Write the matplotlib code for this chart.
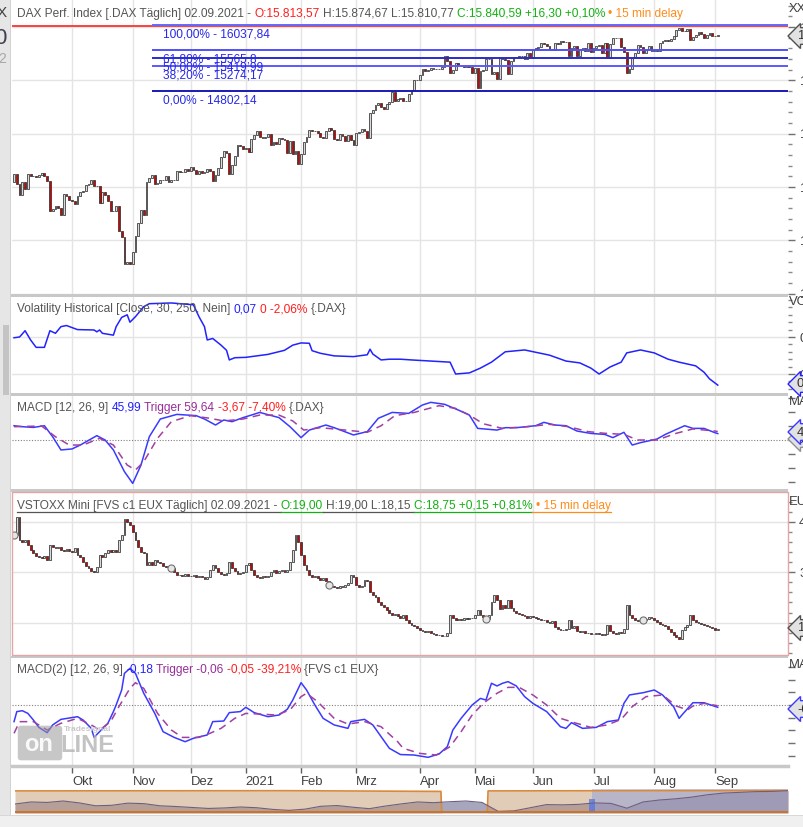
import numpy as np
import pandas as pd
import matplotlib
matplotlib.use("Agg")
import matplotlib.pyplot as plt
from matplotlib.patches import Rectangle, FancyBboxPatch
from matplotlib.lines import Line2D

W, H = 804, 827
plt.rcParams['font.family'] = ['Liberation Sans', 'DejaVu Sans']

# ---- Handelstage (Xetra), 02.09.2020 - 02.09.2021
holidays = ['2020-12-24', '2020-12-25', '2020-12-31', '2021-01-01', '2021-04-02', '2021-04-05']
days = pd.bdate_range('2020-09-02', '2021-09-02')
days = days[~days.isin(pd.to_datetime(holidays))]

# ---- DAX Schlusskurse (täglich)
dax_close = [
    13243, 13057, 12842, 13100, 12968, 13237, 13209, 13202, 13194, 13217, 13255, 13208, 13116, 12542, 12594,
    12643, 12607, 12469, 12871, 12826, 12761,
    12731, 12689, 12828, 12906, 12928, 13042, 13051, 13138, 13019, 13028, 12704, 12909, 12854, 12736, 12558,
    12543, 12646, 12178, 12064, 11561, 11598, 11556,
    11789, 12089, 12324, 12568, 12480, 13096, 13163, 13216, 13053, 13077, 13139, 13133, 13202, 13087, 13137,
    13127, 13292, 13290, 13286, 13336, 13291,
    13382, 13313, 13253, 13299, 13271, 13278, 13340, 13296, 13114, 13223, 13362, 13565, 13667, 13630, 13246,
    13418, 13587, 13790, 13761, 13719,
    13726, 13652, 13892, 13968, 14050, 13937, 13925, 13940, 13989, 13788, 13848, 13815, 13922, 13906, 13874,
    13643, 13871, 13620, 13666, 13433,
    13623, 13835, 13933, 14060, 14057, 14059, 14012, 13933, 13921, 14050, 14109, 14065, 13909, 13886, 13993,
    13950, 13864, 13976, 13879, 13786,
    14012, 14039, 14080, 14056, 13920, 14380, 14437, 14540, 14569, 14502, 14461, 14557, 14596, 14775, 14621,
    14657, 14662, 14610, 14621, 14748, 14818, 15009, 15008,
    15107, 15212, 15176, 15203, 15234, 15216, 15215, 15209, 15255, 15460, 15368, 15130, 15195, 15320, 15280,
    15296, 15249, 15292, 15255, 15136,
    15236, 14856, 15171, 15197, 15400, 15400, 15120, 15150, 15031, 15417, 15397, 15386, 15113, 15370, 15437,
    15437, 15465, 15450, 15406, 15520, 15421,
    15568, 15603, 15632, 15693, 15677, 15640, 15581, 15571, 15693, 15673, 15729, 15711, 15727, 15448, 15603,
    15636, 15456, 15589, 15608, 15555, 15691, 15531,
    15603, 15650, 15661, 15511, 15692, 15421, 15688, 15791, 15790, 15788, 15630, 15540, 15133, 15217, 15422,
    15514, 15669, 15618, 15519, 15570, 15640, 15544,
    15569, 15555, 15692, 15744, 15761, 15745, 15770, 15826, 15937, 15977, 15925, 15921, 15966, 15765, 15808,
    15852, 15905, 15860, 15794, 15852, 15888, 15835,
    15824, 15841,
]
dax_first_open = 13087

# ---- VSTOXX Mini (FVS c1) Schlusskurse
vs_close = [
    37.5, 41.0, 36.5, 36.0, 36.5, 35.5, 34.5, 33.8, 33.2, 33.0, 32.8, 33.3, 32.5, 35.5, 35.0, 34.8, 35.0, 34.5,
    34.2, 34.6, 34.3,
    34.0, 34.8, 33.5, 33.0, 32.0, 31.2, 30.8, 30.2, 30.0, 31.0, 33.5, 33.0, 33.8, 34.5, 34.0, 34.5, 34.0, 36.5,
    37.5, 40.5, 40.0, 39.5,
    38.0, 36.5, 35.0, 34.0, 33.8, 31.5, 32.0, 31.5, 32.5, 32.0, 31.8, 31.2, 31.0, 31.2, 30.8, 30.0, 29.5, 29.4,
    29.2, 29.6, 29.3,
    29.2, 29.4, 29.0, 29.3, 29.1, 28.6, 29.0, 30.5, 31.5, 30.8, 30.0, 29.6, 29.4, 29.8, 32.0, 30.8, 30.2, 29.6,
    29.8, 30.0,
    31.5, 31.8, 30.5, 29.5, 29.0, 28.8, 29.2, 29.0, 29.3, 30.0, 30.5, 29.8, 30.2, 30.4, 30.0, 30.5, 32.0, 34.5,
    37.5, 36.0,
    33.5, 31.5, 30.5, 29.5, 29.0, 29.2, 28.8, 28.5, 28.8, 28.2, 27.5, 27.2, 27.0, 26.8, 27.3, 27.0, 27.4, 27.8,
    29.5, 29.0,
    27.5, 27.0, 27.2, 28.5, 28.2, 26.0, 25.5, 25.0, 24.0, 23.5, 23.2, 22.5, 22.0, 21.5, 21.8, 21.3, 21.0, 21.5,
    20.6, 20.0, 19.6, 19.3, 19.0,
    18.6, 18.4, 18.2, 18.3, 18.0, 17.8, 17.6, 17.5, 17.3, 17.4, 18.0, 21.5, 21.0, 20.5, 20.8, 20.6, 21.0, 20.7,
    20.9, 21.0,
    21.5, 22.5, 21.5, 21.2, 20.8, 21.5, 24.0, 25.5, 24.5, 22.8, 23.5, 23.0, 24.5, 23.0, 22.3, 22.0, 21.8, 21.5,
    21.3, 21.0, 21.4,
    21.2, 20.9, 20.7, 20.5, 20.6, 20.2, 20.0, 20.3, 19.2, 18.8, 18.6, 18.5, 18.7, 20.6, 19.0, 19.3, 18.4, 18.2,
    18.3, 18.0, 17.9, 17.7,
    17.8, 17.9, 17.7, 17.6, 17.8, 19.6, 18.4, 18.0, 17.8, 18.1, 17.9, 18.8, 23.5, 21.5, 21.0, 20.6, 20.4, 20.6,
    20.5, 20.8, 21.2, 20.9,
    20.5, 20.2, 19.8, 19.5, 19.3, 18.8, 18.2, 17.6, 17.2, 16.8, 18.5, 19.2, 19.5, 21.5, 20.5, 20.2, 20.0, 19.8,
    19.6, 19.4, 19.2, 19.0,
    18.6, 18.75,
]
vs_first_open = 36.8
vs_roll_days = [0, 57, 114, 171, 228]

# ---- Volatility Historical (DAX)
vol_day = [0, 2, 4, 6, 8, 11, 13, 15, 17, 19, 23, 29, 30, 31, 32, 36, 37, 39, 41, 42, 44, 47, 49, 57, 65, 67,
           69, 70, 72, 75, 77, 78, 80, 84, 92, 98, 101, 104, 107, 108, 111, 116, 123, 128, 129, 130, 133, 136,
           140, 144, 158, 160, 165, 169, 173, 178, 185, 194, 200, 205, 209, 212, 216, 220, 222, 227, 232, 237,
           241, 247, 250, 252, 255]
vol_val = [0.198, 0.200, 0.217, 0.192, 0.172, 0.172, 0.217, 0.210, 0.228, 0.231, 0.220, 0.219, 0.214, 0.219,
           0.210, 0.205, 0.228, 0.253, 0.260, 0.240, 0.255, 0.282, 0.290, 0.292, 0.287, 0.255, 0.228, 0.192,
           0.196, 0.178, 0.164, 0.138, 0.144, 0.145, 0.153, 0.164, 0.178, 0.184, 0.183, 0.163, 0.156, 0.149,
           0.147, 0.152, 0.167, 0.154, 0.138, 0.140, 0.140, 0.138, 0.132, 0.100, 0.103, 0.116, 0.132, 0.160,
           0.165, 0.151, 0.135, 0.130, 0.116, 0.100, 0.119, 0.132, 0.157, 0.165, 0.157, 0.140, 0.132, 0.122,
           0.105, 0.087, 0.070]

# ---- MACD DAX
macd_day = [0, 3, 7, 11, 14, 17, 21, 24, 30, 33, 36, 40, 43, 46, 49, 53, 59, 66, 69, 73, 76, 79, 83, 86, 89,
            96, 100, 104, 107, 113, 116, 123, 128, 132, 137, 143, 148, 151, 156, 161, 165, 168, 175, 178, 182,
            189, 192, 196, 200, 204, 209, 214, 217, 221, 224, 227, 233, 236, 243, 246, 250, 254, 255]
macd_val = [102, 95, 90, 102, 23, -71, -64, -36, 31, 0, -71, -226, -310, -179, 23, 150, 183, 174, 150, 107,
            143, 131, 160, 178, 197, 160, 95, 17, 71, 107, 88, 36, 60, 155, 197, 190, 250, 269, 255, 214, 178,
            83, 71, 88, 88, 102, 126, 107, 102, 64, 47, 40, 17, 55, -36, -19, 7, 40, 102, 83, 83, 52, 46]
trig_day = [0, 10, 15, 20, 25, 31, 36, 41, 44, 47, 52, 57, 64, 71, 76, 83, 89, 96, 101, 105, 111, 120, 128,
            133, 138, 145, 154, 160, 165, 170, 177, 186, 194, 201, 208, 214, 221, 226, 233, 240, 246, 254, 255]
trig_val = [95, 100, 23, -36, -36, 12, -36, -179, -214, -155, 12, 131, 174, 155, 136, 150, 178, 178, 136, 71,
            88, 71, 55, 102, 174, 197, 245, 226, 178, 116, 83, 95, 112, 95, 60, 48, 40, 0, 0, 48, 79, 64, 60]

# ---- MACD(2) VSTOXX
vm_day = [0, 1, 3, 5, 7, 9, 12, 14, 17, 23, 25, 28, 29, 31, 34, 36, 37, 39, 40, 42, 44, 47, 51, 54, 58, 62,
          65, 70, 72, 76, 78, 82, 84, 87, 92, 96, 99, 101, 104, 106, 109, 112, 116, 121, 122, 127, 130, 133,
          136, 140, 145, 150, 154, 157, 159, 162, 166, 169, 171, 173, 175, 177, 179, 182, 185, 188, 193, 198,
          200, 202, 206, 211, 215, 219, 221, 223, 228, 232, 235, 239, 241, 242, 246, 250, 255]
vm_val = [-1.31, -0.52, -0.45, -0.66, -1.18, -1.76, -2.18, -1.57, -1.13, -0.92, -1.18, -1.84, -2.55, -2.10,
          -1.44, -0.52, 0.00, 1.18, 2.49, 2.89, 2.49, 0.92, -0.66, -2.10, -2.55, -2.89, -2.62, -2.36, -1.31,
          -1.26, -0.60, -0.52, -0.18, -0.60, -0.92, -0.79, -0.34, 0.39, 1.76, 1.18, 0.00, -1.05, -1.57, -1.84,
          -1.31, -1.13, -1.57, -2.49, -3.41, -3.90, -3.94, -4.12, -3.86, -3.28, -1.97, -1.05, 0.00, 0.52, 0.39,
          1.71, 1.50, 1.71, 1.84, 1.50, 0.66, 0.13, -0.52, -1.71, -1.84, -1.39, -1.84, -1.76, -1.31, -1.18,
          0.13, 0.79, 0.97, 1.18, 0.79, -0.13, -1.05, -0.79, 0.18, 0.18, -0.18]
vt_day = [0, 2, 7, 12, 17, 23, 28, 31, 35, 38, 42, 44, 47, 52, 57, 61, 67, 71, 75, 80, 84, 89, 95, 100, 104,
          106, 110, 116, 121, 127, 133, 139, 141, 147, 153, 158, 162, 166, 170, 175, 179, 183, 188, 193, 198,
          203, 209, 215, 220, 224, 229, 235, 240, 244, 246, 250, 255]
vt_val = [-2.23, -1.31, -1.31, -1.97, -1.44, -1.05, -1.57, -1.97, -1.31, -0.13, 1.31, 1.76, 1.31, -0.66,
          -1.97, -2.55, -2.55, -2.23, -1.84, -1.05, -0.66, -0.71, -0.79, -0.39, 0.66, 0.92, 0.26, -1.05, -1.50,
          -1.31, -1.71, -2.89, -3.41, -3.81, -3.94, -3.28, -2.10, -0.79, 0.13, 0.92, 1.39, 1.39, 0.79, 0.00,
          -1.05, -1.39, -1.76, -1.57, -1.13, -0.13, 0.66, 0.79, -0.08, -0.39, -0.08, 0.13, -0.06]

# ---- Fibonacci
fib_low, fib_high = 14802.14, 16037.84
fib_ratios = [1.0, 0.618, 0.5, 0.382, 0.0]
fib_start = '2020-11-11'
ath_line = 16015

# ---- Navigator (Übersicht)
nav_dark = [0.375, 0.46, 0.44, 0.50, 0.42, 0.30, 0.32, 0.41, 0.39, 0.30, 0.27, 0.23, 0.19, 0.21, 0.25, 0.22,
            0.15, 0.11, 0.16, 0.28, 0.31, 0.24, 0.18, 0.29, 0.38, 0.46, 0.43, 0.47, 0.50, 0.44, 0.07, 0.09,
            0.22, 0.35, 0.34, 0.36, 0.42, 0.40, 0.20, 0.46, 0.54, 0.59, 0.66, 0.76, 0.83, 0.86, 0.89, 0.90, 0.93]
nav_upper_pos = [0.0, 0.35, 0.551, 0.552, 0.611, 0.612, 1.0]
nav_upper_val = [0.92, 0.93, 0.90, 0.0, 0.0, 0.92, 0.94]
nav_sel = (0.746, 1.0)

months_de = {1: '2021', 2: 'Feb', 3: 'Mrz', 4: 'Apr', 5: 'Mai', 6: 'Jun', 7: 'Jul', 8: 'Aug',
             9: 'Sep', 10: 'Okt', 11: 'Nov', 12: 'Dez'}

GRAY, RED, GREEN, ORANGE = '#555555', '#ff1e1e', '#12b012', '#ff8c1a'
BLUE, PURPLE = '#2222ff', '#9a2c9a'

# ---------------------------------------------------------------
per = days.to_period('M')
month_idx = [i for i in range(1, len(days)) if per[i] != per[i - 1]]
month_lab = [months_de[days[i].month] for i in month_idx]
ppd = 643 / (month_idx[-1] - month_idx[0])          # Pixel je Handelstag
x_first = 72 - month_idx[0] * ppd
XLIM = ((12 - x_first) / ppd, (788 - x_first) / ppd)

fig = plt.figure(figsize=(W / 100, H / 100), dpi=100)
fig.patch.set_facecolor('white')
R = fig.canvas.get_renderer()


def fx(x):
    return x / W


def fy(y):
    return 1 - y / H


def add_ax(y0, y1, x0=12, x1=788):
    return fig.add_axes([fx(x0), fy(y1), (x1 - x0) / W, (y1 - y0) / H])


def rect(x0, y0, x1, y1, **kw):
    p = Rectangle((fx(x0), fy(y1)), (x1 - x0) / W, (y1 - y0) / H, transform=fig.transFigure, **kw)
    fig.add_artist(p)


def text_w(s, size):
    t = fig.text(0, 0, s, fontsize=size)
    w = t.get_window_extent(R).width
    t.remove()
    return w


header1 = [('DAX Perf. Index [.DAX Täglich] 02.09.2021 - ', GRAY), ('O:15.813,57', RED),
           (' H:15.874,67 L:15.810,77 ', GRAY), ('C:15.840,59 +16,30 +0,10%', GREEN),
           (' • 15 min delay', ORANGE)]
HS = 10 * 669 / text_w(''.join(p[0] for p in header1), 10)


def rich(x, yc, parts, size=HS, underline=False):
    sp = text_w('a a', size) - text_w('aa', size)
    yb = yc + 4
    for s, c in parts:
        lead = len(s) - len(s.lstrip(' '))
        trail = len(s) - len(s.rstrip(' '))
        core = s.strip(' ')
        x0 = x
        x += lead * sp
        fig.text(fx(x), fy(yb), core, color=c, fontsize=size, va='baseline', ha='left', zorder=10)
        x += text_w(core, size) + trail * sp
        if underline:
            fig.add_artist(Line2D([fx(x0), fx(x)], [fy(yb + 2.5)] * 2, color=c, lw=0.9,
                                  transform=fig.transFigure))


def setup(ax, ylim, major, minor, labels=None, hgrid=False):
    ax.set_xlim(XLIM)
    ax.set_ylim(ylim)
    for s in ax.spines.values():
        s.set_visible(False)
    ax.set_xticks(month_idx)
    ax.tick_params(axis='x', length=0, labelbottom=False)
    ax.grid(axis='x', color='#e4e4e4', lw=1)
    ax.yaxis.tick_right()
    ax.set_yticks(major)
    ax.set_yticks(minor, minor=True)
    ax.set_yticklabels(labels if labels else [''] * len(major))
    ax.tick_params(axis='y', which='major', length=5, width=1, color='#707070', pad=3,
                   labelsize=HS + 0.8, labelcolor='#404040')
    ax.tick_params(axis='y', which='minor', length=3, width=1, color='#8a8a8a')
    if hgrid:
        ax.grid(axis='y', which='major', color='#e4e4e4', lw=1)
    ax.set_axisbelow(True)


def candles(ax, first_open, close):
    c = np.asarray(close, float)
    o = np.r_[first_open, c[:-1]]
    idx = np.arange(len(c))
    up = c >= o
    ax.bar(idx[up], (c - o)[up], bottom=o[up], width=0.66, color='#dadada', edgecolor='#303030',
           lw=0.55, zorder=3)
    ax.bar(idx[~up], (o - c)[~up], bottom=c[~up], width=0.66, color='#d40000', edgecolor='#303030',
           lw=0.55, zorder=3)


# ---- Panel 1: DAX
ax1 = add_ax(0, 294)
setup(ax1, (16000 - 267 * 18.75, 16000 + 27 * 18.75), np.arange(11000, 16001, 1000),
      np.arange(11000, 16600, 200), [f'{v:,}'.replace(',', '.') for v in range(11000, 16001, 1000)],
      hgrid=True)
candles(ax1, dax_first_open, dax_close)
ax1.axhline(ath_line, color='#ff3030', lw=1.3, zorder=2)
fs = days.get_loc(pd.Timestamp(fib_start))
fib_cols = ['#6666ff', '#5050ff', '#2a2ad0', '#5a5aff', '#1a1ab4']
for r, col in zip(fib_ratios, fib_cols):
    lev = fib_low + r * (fib_high - fib_low)
    ax1.hlines(lev, fs, XLIM[1], colors=col, lw=1.4, zorder=4)
    v = np.floor(lev * 100 + 1e-6) / 100
    lab = f'{r * 100:.2f}'.replace('.', ',') + '% - ' + f'{v:.2f}'.rstrip('0').rstrip('.').replace('.', ',')
    ax1.annotate(lab, xy=(fs, lev), xytext=(8, -2.5), textcoords='offset points', va='top', ha='left',
                 fontsize=HS, color='#2828e8', zorder=5)

# ---- Panel 2: Volatility
ax2 = add_ax(296, 394)
setup(ax2, (0.2 - 57 / 370, 0.2 + 41 / 370), [0.1, 0.2], np.arange(0.06, 0.31, 0.02),
      ['0,1', '0,2'], hgrid=True)
ax2.plot(vol_day, vol_val, color=BLUE, lw=1.1, zorder=3)

# ---- Panel 3: MACD DAX
ax3 = add_ax(396, 490)
setup(ax3, (-50 / 0.14, 44 / 0.14), np.arange(-300, 301, 100), [])
ax3.axhline(0, color='#808080', lw=0.8, ls=(0, (1, 1.5)))
ax3.plot(macd_day, macd_val, color='#3a3aff', lw=1.1, zorder=3)
ax3.plot(trig_day, trig_val, color='#a040a0', lw=1.1, ls=(0, (5, 3.5)), zorder=3)

# ---- Panel 4: VSTOXX
ax4 = add_ax(492, 655)
setup(ax4, (40 - 133 / 5.03, 40 + 30 / 5.03), [20, 30, 40], np.arange(14, 46, 2), ['', '30', '40'],
      hgrid=True)
candles(ax4, vs_first_open, vs_close)
vc = np.asarray(vs_close)
ax4.scatter(vs_roll_days, vc[vs_roll_days], s=26, c='#e6e6e6', edgecolors='#707070', linewidths=0.8, zorder=4)

# ---- Panel 5: MACD(2) VSTOXX
ax5 = add_ax(657, 766)
setup(ax5, (-61 / 12.7, 48 / 12.7), np.arange(-4, 4, 1), [])
ax5.axhline(0, color='#808080', lw=0.8, ls=(0, (1, 1.5)))
ax5.plot(vm_day, vm_val, color='#3a3aff', lw=1.1, zorder=3)
ax5.plot(vt_day, vt_val, color='#a040a0', lw=1.1, ls=(0, (5, 3.5)), zorder=3)
ax5.spines['bottom'].set_visible(True)
ax5.spines['bottom'].set_color('#c8c8c8')
ax5.spines['bottom'].set_linewidth(2.5)
ax5.set_xticks(month_idx)
ax5.set_xticklabels(month_lab)
ax5.tick_params(axis='x', length=5, width=1, color='#606060', labelbottom=True, pad=2.5,
                labelsize=HS + 0.8, labelcolor='#404040')
for t in ax5.get_xticklabels():
    t.set_ha('left')

# watermark
fig.add_artist(FancyBboxPatch((fx(21), fy(757)), 38 / W, 28 / H, boxstyle='round,pad=0.004',
                              transform=fig.transFigure, fc='#9a9a9a', ec='none', alpha=0.55))
fig.text(fx(24), fy(751), 'on', fontsize=17, weight='bold', color='white', alpha=0.9)
fig.text(fx(60), fy(752), 'LINE', fontsize=17, weight='bold', color='#b4b4b4', alpha=0.8)
fig.text(fx(64), fy(731), 'Tradesignal', fontsize=6, weight='bold', color='#c8c8c8')

# ---- Navigator
axn = add_ax(789, 813, 15, 788)
axn.set_xlim(0, 1)
axn.set_ylim(0, 1)
axn.axis('off')
npos = np.linspace(0, 1, len(nav_dark))
axn.fill_between(npos, 0, nav_dark, color='#a6a6be', lw=0)
axn.fill_between(nav_upper_pos, 0, nav_upper_val, color='#c59a70', alpha=0.5, lw=0)
axn.plot(nav_upper_pos, nav_upper_val, color='#d9893a', lw=1.2)
axn.plot(npos, nav_dark, color='#6e5f7e', lw=0.8)
axn.axhline(0.04, color='#d0701e', lw=1.3)
axn.axvspan(nav_sel[0], nav_sel[1], color='#7f94e4', alpha=0.4, lw=0)
axn.axvspan(nav_sel[0] - 0.004, nav_sel[0] + 0.004, ymin=0.05, ymax=0.6, color='#5a78e0', alpha=0.8, lw=0)

# ---- Rahmen / Trennlinien
rect(0, 0, 10, 815, fc='#e6e6e6', ec='none')
rect(10, 0, 11, 815, fc='#d2d2d2', ec='none')
rect(3, 325, 9, 395, fc='#c4c4c4', ec='none')
rect(0, 815, W, H, fc='#f0f0f0', ec='none')
rect(0, 814.5, W, 815.5, fc='#d8d8d8', ec='none')
for y0, y1 in [(293.5, 296.5), (392.5, 395.5), (488.5, 491.5), (655.5, 658)]:
    rect(11, y0, 788, y1, fc='#c8c8c8', ec='none')
rect(12, 492, 788, 655, fill=False, ec='#e6a4a4', lw=1)
fig.text(fx(-3), fy(17), 'X', fontsize=11, color='#404040')
fig.text(fx(-6), fy(44), '0', fontsize=16, color='#404050')
fig.text(fx(-2), fy(63), '2', fontsize=10, color='#a8a8a8')

# ---- Kopfzeilen
rich(17, 13, header1)
rich(17, 308, [('Volatility Historical [Close, 30, 250, Nein] ', GRAY), ('0,07', BLUE),
               (' 0 -2,06%', RED), (' {.DAX}', GRAY)])
rich(17, 407, [('MACD [12, 26, 9] ', GRAY), ('45,99', BLUE), (' Trigger 59,64', PURPLE),
               (' -3,67 -7,40%', RED), (' {.DAX}', GRAY)])
rich(17, 505, [('VSTOXX Mini [FVS c1 EUX Täglich] 02.09.2021 - ', GRAY), ('O:19,00', GREEN),
               (' H:19,00 L:18,15 ', GRAY), ('C:18,75 +0,15 +0,81%', GREEN), (' • 15 min delay', ORANGE)],
     underline=True)
rich(17, 669, [('MACD(2) [12, 26, 9] ', GRAY), ('-0,18', BLUE), (' Trigger -0,06', PURPLE),
               (' -0,05 -39,21%', RED), (' {FVS c1 EUX}', GRAY)])

# ---- rechte Achse: Titel und Kursmarken
for yc, s in [(8, 'XXX'), (301, 'VOLA'), (401, 'MACD'), (501, 'EUR'), (664, 'MACD')]:
    fig.text(fx(789), fy(yc + 4), s, fontsize=HS + 0.8, color='#404040', va='baseline')


def marker(yc, s, ec, fc='#e2e2e2'):
    fig.text(fx(797), fy(yc), s, fontsize=HS + 0.8, va='center', ha='left', color='#303030', zorder=12,
             bbox=dict(boxstyle='larrow,pad=0.18', fc=fc, ec=ec, lw=1))


marker(36, '15.840,59', '#505050')
marker(384, '0,07', BLUE)
marker(439, '59,64', '#909090')
marker(432, '45,99', '#3a3aff')
marker(628, '18,75', '#505050')
marker(709, '-0,18', '#3a3aff')

fig.savefig('out.png', dpi=100)
